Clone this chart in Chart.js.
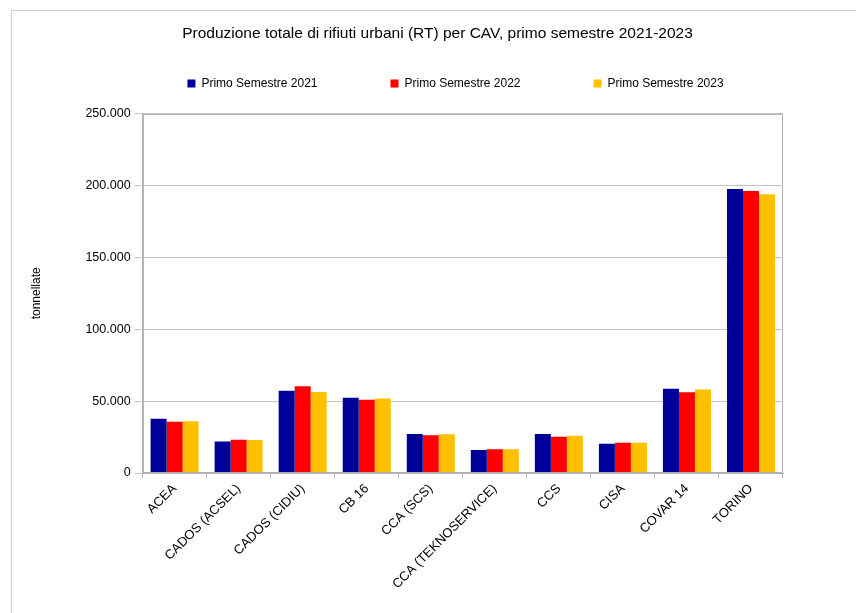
<!DOCTYPE html>
<html>
<head>
<meta charset="utf-8">
<script src="https://cdn.jsdelivr.net/npm/chart.js@4"></script>
<style>
  html, body { margin: 0; padding: 0; background: #ffffff; }
  #wrap { position: relative; width: 856px; height: 613px; overflow: hidden; }
  #frame { position: absolute; left: 11px; top: 10px; width: 900px; height: 700px;
           border-left: 1px solid #d0d0d0; border-top: 1px solid #d0d0d0; }
  #c { position: absolute; left: 0; top: 0; }
</style>
</head>
<body>
<div id="wrap">
  <div id="frame"></div>
  <canvas id="c" width="856" height="613"></canvas>
</div>
<script>
const categories = ['ACEA', 'CADOS (ACSEL)', 'CADOS (CIDIU)', 'CB 16', 'CCA (SCS)', 'CCA (TEKNOSERVICE)', 'CCS', 'CISA', 'COVAR 14', 'TORINO'];
const seriesNames = ['Primo Semestre 2021', 'Primo Semestre 2022', 'Primo Semestre 2023'];
const sem2021 = [37800, 22000, 57200, 52400, 27100, 16000, 27200, 20400, 58600, 197600];
const sem2022 = [35700, 23200, 60400, 51000, 26200, 16500, 25300, 21100, 56200, 196200];
const sem2023 = [36100, 23000, 56300, 51900, 26900, 16500, 26000, 21100, 58100, 193900];
const titleText = 'Produzione totale di rifiuti urbani (RT) per CAV, primo semestre 2021-2023';
const yAxisTitle = 'tonnellate';

const colors = ['#000099', '#ff0000', '#ffc000'];

function fmtIt(v) {
  return String(v).replace(/\B(?=(\d{3})+(?!\d))/g, '.');
}

Chart.defaults.font.family = "'Liberation Sans', Arial, sans-serif";
Chart.defaults.font.size = 12;
Chart.defaults.color = '#000000';

const areaBorder = {
  id: 'areaBorder',
  afterDatasetsDraw(chart) {
    const a = chart.chartArea;
    const ctx = chart.ctx;
    ctx.save();
    ctx.strokeStyle = '#b3b3b3';
    ctx.lineWidth = 1;
    const l = Math.round(a.left) + 0.5, t = Math.round(a.top) + 0.5;
    const r = Math.round(a.right) - 0.5, b = Math.round(a.bottom) - 0.5;
    ctx.strokeRect(l, t, r - l, b - t);
    ctx.restore();
  }
};

const legendPlace = {
  id: 'legendPlace',
  beforeInit(chart) {
    const lg = chart.legend;
    const fit = lg.fit;
    lg.fit = function () { fit.call(this); this.height = 71; };
  },
  afterLayout(chart) {
    const lg = chart.legend;
    lg.top -= 38;
    lg.left += 59; lg.right += 59;
    const tt = chart.titleBlock;
    if (tt) { tt.left += 41; tt.right += 41; }
  }
};

new Chart(document.getElementById('c'), {
  type: 'bar',
  data: {
    labels: categories,
    datasets: [
      { label: seriesNames[0], data: sem2021, backgroundColor: colors[0], borderWidth: 0 },
      { label: seriesNames[1], data: sem2022, backgroundColor: colors[1], borderWidth: 0 },
      { label: seriesNames[2], data: sem2023, backgroundColor: colors[2], borderWidth: 0 }
    ]
  },
  options: {
    responsive: false,
    animation: false,
    categoryPercentage: 0.75,
    barPercentage: 1.0,
    layout: { padding: { left: 10, right: 73, top: 0, bottom: 18 } },
    plugins: {
      title: {
        display: true,
        text: titleText,
        color: '#000000',
        font: { size: 15.5, weight: 'normal' },
        padding: { top: 24, bottom: 0 }
      },
      legend: {
        display: true,
        position: 'top',
        fullSize: true,
        labels: {
          boxWidth: 8,
          boxHeight: 8,
          padding: 73,
          color: '#000000',
          font: { size: 12 }
        }
      },
      tooltip: { enabled: false }
    },
    scales: {
      x: {
        grid: { display: true, drawOnChartArea: false, drawTicks: true, tickLength: 5, color: '#b3b3b3', offset: true },
        border: { display: true, color: '#b3b3b3' },
        ticks: { minRotation: 45, maxRotation: 45, padding: 3, color: '#000000', font: { size: 13 }, autoSkip: false }
      },
      y: {
        min: 0,
        max: 250000,
        grid: { color: '#c4c4c4', tickLength: 8, drawTicks: true },
        border: { display: true, color: '#b3b3b3' },
        ticks: { stepSize: 50000, padding: 4, color: '#000000', font: { size: 12.5 }, callback: (v) => fmtIt(v) },
        title: { display: true, text: yAxisTitle, color: '#000000', font: { size: 12 }, padding: { top: 19, bottom: 38 } }
      }
    }
  },
  plugins: [areaBorder, legendPlace]
});
</script>
</body>
</html>
